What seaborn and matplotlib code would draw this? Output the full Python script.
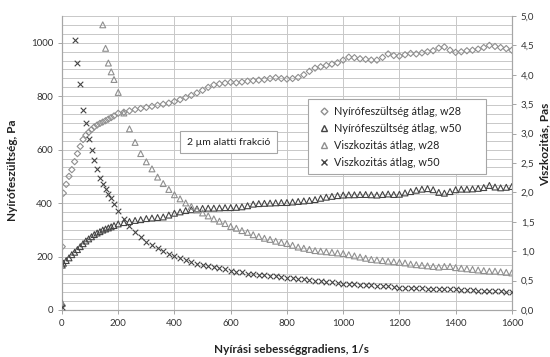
import numpy as np
import pandas as pd
import seaborn as sns
import matplotlib.pyplot as plt
from matplotlib.ticker import MultipleLocator
from matplotlib.lines import Line2D

# shear rate grid, 1/s
shear_low = [0, 1, 5, 15, 25, 35, 45, 55, 65, 75, 85, 95, 105, 115, 125, 135, 145, 155, 165, 175, 185]
shear_high = list(range(200, 1601, 20))
shear = shear_low + shear_high

# shear stress, Pa (left axis)
stress_w28 = [15, 237, 437, 470, 500, 525, 555, 585, 612, 638, 654, 665, 675, 685, 692, 698, 703, 708, 714, 720, 726,
              736, 740, 745, 750, 754, 758, 762, 766, 770, 774, 780, 787, 795, 803, 812, 822, 833, 842, 846, 849,
              852, 850, 853, 856, 858, 860, 862, 866, 869, 866, 864, 866, 870, 880, 893, 905, 910, 915, 920, 925,
              935, 946, 944, 940, 938, 935, 935, 945, 958, 952, 950, 955, 960, 958, 962, 966, 970, 980, 984, 972,
              964, 966, 970, 972, 976, 982, 990, 986, 982, 978, 972]
stress_w50 = [25, 168, 175, 185, 195, 207, 216, 226, 237, 248, 258, 266, 274, 282, 288, 293, 299, 303, 307, 311, 316,
              322, 327, 331, 335, 338, 342, 344, 346, 348, 355, 362, 367, 372, 375, 378, 380, 381, 381, 382, 383,
              383, 384, 386, 390, 396, 398, 399, 400, 401, 402, 402, 404, 406, 408, 410, 413, 418, 422, 425, 428,
              430, 431, 431, 432, 432, 431, 430, 432, 434, 432, 433, 438, 443, 448, 452, 454, 450, 440, 437, 443,
              450, 452, 452, 453, 455, 458, 466, 460, 457, 459, 462]

# viscosity, Pas (right axis); nan = above the axis range
visc_w28 = [0.12, np.nan, np.nan, np.nan, np.nan, np.nan, np.nan, np.nan, np.nan, np.nan, np.nan, np.nan, np.nan,
            np.nan, np.nan, np.nan, 4.85, 4.45, 4.2, 4.05, 3.92,
            3.7, 3.35, 3.08, 2.85, 2.66, 2.52, 2.40, 2.26, 2.15, 2.05, 1.96, 1.89, 1.82, 1.76, 1.70, 1.65, 1.60,
            1.55, 1.51, 1.47, 1.42, 1.39, 1.35, 1.32, 1.28, 1.25, 1.22, 1.20, 1.17, 1.15, 1.13, 1.10, 1.07, 1.05,
            1.03, 1.01, 1.00, 0.99, 0.98, 0.97, 0.96, 0.94, 0.92, 0.90, 0.88, 0.86, 0.85, 0.84, 0.83, 0.82, 0.81,
            0.80, 0.78, 0.77, 0.76, 0.75, 0.74, 0.73, 0.74, 0.74, 0.72, 0.71, 0.70, 0.69, 0.68, 0.67, 0.66, 0.66,
            0.65, 0.64, 0.63]
visc_w50 = [0.05, np.nan, np.nan, np.nan, np.nan, np.nan, 4.6, 4.2, 3.85, 3.4, 3.18, 2.9, 2.72, 2.55, 2.40, 2.25,
            2.15, 2.06, 1.98, 1.90, 1.80,
            1.68, 1.55, 1.43, 1.33, 1.24, 1.16, 1.10, 1.05, 1.01, 0.96, 0.92, 0.88, 0.85, 0.82, 0.79, 0.77, 0.75,
            0.73, 0.71, 0.69, 0.67, 0.65, 0.64, 0.62, 0.61, 0.60, 0.59, 0.58, 0.57, 0.56, 0.55, 0.54, 0.53, 0.52,
            0.51, 0.50, 0.49, 0.48, 0.47, 0.46, 0.45, 0.44, 0.44, 0.43, 0.43, 0.42, 0.41, 0.41, 0.40, 0.39, 0.38,
            0.38, 0.37, 0.37, 0.37, 0.36, 0.36, 0.36, 0.35, 0.35, 0.35, 0.34, 0.34, 0.34, 0.33, 0.33, 0.33, 0.32,
            0.32, 0.31, 0.31]

labels = ["Nyírófeszültség átlag, w28", "Nyírófeszültség átlag, w50",
          "Viszkozitás átlag, w28", "Viszkozitás átlag, w50"]
x_ticks = [0, 200, 400, 600, 800, 1000, 1200, 1400, 1600]
left_ticks = [0, 200, 400, 600, 800, 1000]
right_ticks = [0.0, 0.5, 1.0, 1.5, 2.0, 2.5, 3.0, 3.5, 4.0, 4.5, 5.0]

df = pd.DataFrame({"shear": shear, "s28": stress_w28, "s50": stress_w50,
                   "v28": visc_w28, "v50": visc_w50})

sns.set_theme(style="white")
plt.rcParams['font.family'] = ['Lato', 'DejaVu Sans']

light = "#8f8f8f"
dark = "#444444"
grid = "#c8c8c8"
axis_col = "#a6a6a6"

fig = plt.figure(figsize=(5.5, 3.57), dpi=100)
ax = fig.add_axes([0.1127, 0.1317, 0.818, 0.8235])
ax2 = ax.twinx()

sns.scatterplot(data=df, x="shear", y="s28", ax=ax, marker="D", s=10, facecolor="none",
                edgecolor=light, linewidth=0.8, zorder=3)
sns.scatterplot(data=df, x="shear", y="s50", ax=ax, marker="^", s=18, facecolor="none",
                edgecolor=dark, linewidth=0.8, zorder=3)
sns.scatterplot(data=df, x="shear", y="v28", ax=ax2, marker="^", s=18, facecolor="none",
                edgecolor=light, linewidth=0.8, zorder=3)
sns.scatterplot(data=df, x="shear", y="v50", ax=ax2, marker="x", s=16, color=dark,
                linewidth=0.8, zorder=3)

ax.set_xlim(0, 1600)
ax.set_ylim(0, 1100)
ax2.set_ylim(0, 5)
ax.set_xticks(x_ticks)
ax.set_yticks(left_ticks)
ax2.set_yticks(right_ticks)
ax2.set_yticklabels([f"{v:.1f}".replace(".", ",") for v in right_ticks])

ax.yaxis.set_minor_locator(MultipleLocator(200 / 6))
ax.grid(True, which="both", axis="y", color=grid, linewidth=0.7)
ax.grid(True, which="major", axis="x", color=grid, linewidth=0.7)
ax.set_axisbelow(True)
ax2.grid(False)

for a in (ax, ax2):
    for sp in a.spines.values():
        sp.set_color(axis_col)
        sp.set_linewidth(0.8)
    a.spines["top"].set_visible(False)
    a.tick_params(axis="both", which="major", labelsize=7, colors="#333333",
                  length=3, width=0.7, direction="out")
    a.tick_params(axis="both", which="minor", length=0)
    a.tick_params(axis="both", which="major", color=axis_col)
ax.tick_params(left=True, bottom=True)
ax2.tick_params(right=True)

ax.set_xlabel("Nyírási sebességgradiens, 1/s", fontsize=8.5, fontweight="bold", color="#222222")
ax.set_ylabel("Nyírófeszültség, Pa", fontsize=8.5, fontweight="bold", color="#222222")
ax2.set_ylabel("Viszkozitás, Pas", fontsize=8.5, fontweight="bold", color="#222222", rotation=90)
ax.xaxis.set_label_coords(0.511, -0.115)
ax.yaxis.set_label_coords(-0.098, 0.476)
ax2.yaxis.set_label_coords(1.062, 0.565)

handles = [
    Line2D([], [], linestyle="none", marker="D", markersize=3.5, markerfacecolor="none", markeredgecolor=light),
    Line2D([], [], linestyle="none", marker="^", markersize=4.5, markerfacecolor="none", markeredgecolor=dark),
    Line2D([], [], linestyle="none", marker="^", markersize=4.5, markerfacecolor="none", markeredgecolor=light),
    Line2D([], [], linestyle="none", marker="x", markersize=4, markeredgecolor=dark),
]
leg = fig.legend(handles, labels, loc="upper left", bbox_to_anchor=(0.551, 0.515, 0.342, 0.222),
                 mode="expand", fontsize=7.8, frameon=True, fancybox=False, edgecolor=axis_col,
                 framealpha=1, handlelength=1.6, handletextpad=0.2, labelspacing=0.55, borderpad=0.6)
leg.get_frame().set_linewidth(0.8)
for t in leg.get_texts():
    t.set_color("#222222")

fig.text(0.415, 0.602, "2 µm alatti frakció", fontsize=7.5, color="#222222", ha="center", va="center",
         bbox=dict(boxstyle="square,pad=0.65", facecolor="white", edgecolor=axis_col, linewidth=0.8))

fig.savefig("out.png", dpi=100)
